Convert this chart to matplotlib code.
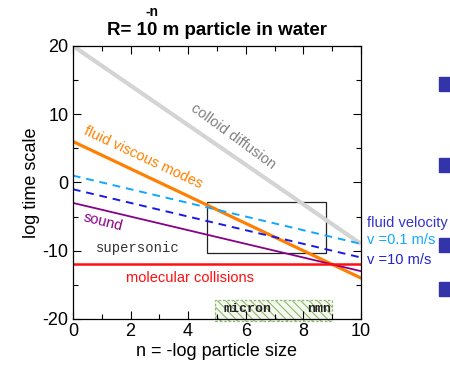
import matplotlib
matplotlib.use("Agg")
import matplotlib.pyplot as plt
from matplotlib.patches import Rectangle
from matplotlib.ticker import MultipleLocator

plt.rcParams['font.family'] = ['Liberation Sans', 'DejaVu Sans']
plt.rcParams['axes.unicode_minus'] = False
plt.rcParams['hatch.linewidth'] = 0.8

# n = -log10(particle size); each process gives log time = a + b*n
n_ends = [0, 10]
colloid = [20, -9]
viscous = [6, -14]
vel_slow = [1, -9]      # v = 0.1 m/s
vel_fast = [-1, -11]    # v = 10 m/s
sound = [-3, -13]
collisions = [-12, -12]

# zoom window and size band (n range, log time range)
window_n = [4.65, 8.8]
window_t = [-10.3, -2.8]
band_n = [4.95, 9.0]
band_t = [-20.3, -17.2]

fig = plt.figure(figsize=(4.5, 3.7), dpi=100)
ax = fig.add_axes([0.162, 0.138, 0.640, 0.738])

ax.plot(n_ends, colloid, color='#d4d4d4', lw=3.0, solid_capstyle='butt')
ax.plot(n_ends, viscous, color='#ff8000', lw=2.3)
ax.plot(n_ends, vel_slow, color='#10a8ff', lw=1.4, ls=(0, (4, 3)))
ax.plot(n_ends, vel_fast, color='#1a1ae6', lw=1.4, ls=(0, (4, 3)))
ax.plot(n_ends, sound, color='#880088', lw=1.3)
ax.plot(n_ends, collisions, color='#ff1010', lw=1.8)

ax.add_patch(Rectangle((window_n[0], window_t[0]), window_n[1] - window_n[0],
                       window_t[1] - window_t[0], fill=False, ec='#222222', lw=0.9))
ax.add_patch(Rectangle((band_n[0], band_t[0]), band_n[1] - band_n[0],
                       band_t[1] - band_t[0], facecolor='#f4f8ee', edgecolor='#90b870',
                       hatch='\\\\\\\\', lw=0.9, ls=(0, (2, 1.5)), clip_on=False, zorder=0.5))

ax.text(5.57, 6.66, 'colloid diffusion', color='#808080', fontsize=10.5,
        rotation=-36, ha='center', va='center', rotation_mode='anchor')
ax.text(2.44, 3.7, 'fluid viscous modes', color='#ff8000', fontsize=10.5,
        rotation=-25, ha='center', va='center', rotation_mode='anchor')
ax.text(1.05, -5.8, 'sound', color='#880088', fontsize=10.5,
        rotation=-14, ha='center', va='center', rotation_mode='anchor')
ax.text(2.27, -9.6, 'supersonic', color='#333333', fontsize=10,
        family='Liberation Mono', ha='center', va='center')
ax.text(4.06, -14, 'molecular collisions', color='#ff1010', fontsize=10.5,
        ha='center', va='center')
ax.text(6.05, -18.6, 'micron', color='#222222', fontsize=9.5, weight='bold',
        family='Liberation Mono', ha='center', va='center')
ax.text(8.55, -18.6, 'nmn', color='#222222', fontsize=9.5, weight='bold',
        family='Liberation Mono', ha='center', va='center')

ax.set_xlim(0, 10)
ax.set_ylim(-20, 20)
ax.xaxis.set_major_locator(MultipleLocator(2))
ax.xaxis.set_minor_locator(MultipleLocator(1))
ax.yaxis.set_major_locator(MultipleLocator(10))
ax.yaxis.set_minor_locator(MultipleLocator(5))
ax.tick_params(which='both', direction='in', top=True, right=True, labelsize=13, width=0.8)
ax.tick_params(which='major', length=6, pad=3)
ax.tick_params(which='minor', length=3.5)
ax.set_xlabel('n = -log particle size', fontsize=13, labelpad=2)
ax.set_ylabel('log time scale', fontsize=13, labelpad=2)
for s in ax.spines.values():
    s.set_linewidth(0.9)

fig.text(0.483, 0.918, 'R= 10 m particle in water', fontsize=13.5, weight='bold',
         ha='center', va='center')
fig.text(0.338, 0.968, '-n', fontsize=10, weight='bold', ha='center', va='center')

fig.text(0.815, 0.398, 'fluid velocity', color='#3333cc', fontsize=10.5, va='center')
fig.text(0.815, 0.351, 'v =0.1 m/s', color='#10a8ff', fontsize=10.5, va='center')
fig.text(0.815, 0.298, 'v =10 m/s', color='#2222cc', fontsize=10.5, va='center')

# slide bullets along the right edge
for yc in [84, 165, 245, 289]:
    fig.patches.append(Rectangle((439 / 450, 1 - (yc + 7) / 370), 14 / 450, 14 / 370,
                                 transform=fig.transFigure, color='#3333aa'))

fig.savefig('out.png', dpi=100)
